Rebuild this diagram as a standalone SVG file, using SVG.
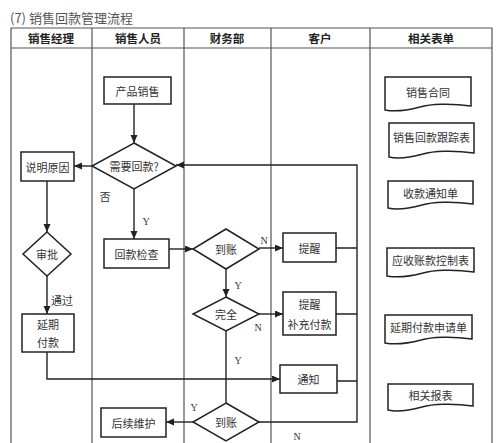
<svg xmlns="http://www.w3.org/2000/svg" width="499" height="443" viewBox="0 0 499 443">
<style>
.t{font-family:"Noto Sans CJK SC","Noto Sans",sans-serif;font-size:11px;fill:#333;text-anchor:middle;dominant-baseline:central}
.h{font-family:"Noto Sans CJK SC",sans-serif;font-size:11.5px;font-weight:bold;fill:#222;text-anchor:middle;dominant-baseline:central}
.l{font-family:"Liberation Serif",serif;font-size:10px;fill:#333;text-anchor:middle;dominant-baseline:central}
.grid{stroke:#555;stroke-width:1.2;fill:none}
.n{fill:#fff;stroke:#222;stroke-width:1.5}
.c{fill:none;stroke:#222;stroke-width:1.4}
</style>
<defs>
<marker id="a" markerUnits="userSpaceOnUse" markerWidth="9" markerHeight="8" refX="8" refY="3.5" orient="auto">
<path d="M0,0 L8,3.5 L0,7 z" fill="#222"/>
</marker>
</defs>
<rect width="499" height="443" fill="#fff"/>
<text x="10" y="17" style="font-family:'Noto Sans CJK SC',sans-serif;font-size:13px;fill:#555;dominant-baseline:central">(7) 销售回款管理流程</text>
<g id="table">
<path class="grid" d="M11,443 V28 H492 V443 M11,48 H492 M92,28 V443 M184,28 V443 M271,28 V443 M370,28 V443"/>
<text class="h" x="51" y="38">销售经理</text>
<text class="h" x="138" y="38">销售人员</text>
<text class="h" x="227" y="38">财务部</text>
<text class="h" x="320" y="38">客户</text>
<text class="h" x="431" y="38">相关表单</text>
</g>
<g id="connectors">
<path class="c" d="M134,104 V143" marker-end="url(#a)"/>
<path class="c" d="M92,166 H74" marker-end="url(#a)"/>
<path class="c" d="M47,181 V232" marker-end="url(#a)"/>
<path class="c" d="M47,276 V314" marker-end="url(#a)"/>
<path class="c" d="M134,189 V239" marker-end="url(#a)"/>
<path class="c" d="M169,249 H193" marker-end="url(#a)"/>
<path class="c" d="M259,248 H283" marker-end="url(#a)"/>
<path class="c" d="M226,269 V297" marker-end="url(#a)"/>
<path class="c" d="M259,314 H283" marker-end="url(#a)"/>
<path class="c" d="M226,331 V403"/>
<path class="c" d="M47,352 V379 H280" marker-end="url(#a)"/>
<path class="c" d="M193,422 H166" marker-end="url(#a)"/>
<path class="c" d="M259,422 H357 V165 H176" marker-end="url(#a)"/>
<path class="c" d="M336,248 H357 M336,314 H357 M337,381 H357"/>
<text class="t" x="105" y="196">否</text>
<text class="l" x="146" y="221">Y</text>
<text class="l" x="264" y="240">N</text>
<text class="l" x="238" y="285">Y</text>
<text class="l" x="258" y="327">N</text>
<text class="l" x="238" y="360">Y</text>
<text class="l" x="194" y="407">Y</text>
<text class="l" x="297" y="436">N</text>
<text class="t" x="62" y="300">通过</text>
</g>
<g id="n1"><rect class="n" x="104" y="77" width="67" height="27"/><text class="t" x="137.5" y="91">产品销售</text></g>
<g id="n2"><path class="n" d="M134,143 L176,166 L134,189 L92,166 Z"/><text class="t" x="134" y="166">需要回款?</text></g>
<g id="n3"><rect class="n" x="21" y="152" width="53" height="29"/><text class="t" x="47.5" y="166.5">说明原因</text></g>
<g id="n4"><path class="n" d="M47,232 L71,254 L47,276 L23,254 Z"/><text class="t" x="47" y="254">审批</text></g>
<g id="n5"><rect class="n" x="22" y="314" width="52" height="38"/><text class="t" x="48" y="324">延期</text><text class="t" x="48" y="342">付款</text></g>
<g id="n6"><rect class="n" x="104" y="239" width="65" height="29"/><text class="t" x="136.5" y="253.5">回款检查</text></g>
<g id="n7"><path class="n" d="M226,229 L259,249 L226,269 L193,249 Z"/><text class="t" x="226" y="249">到账</text></g>
<g id="n8"><rect class="n" x="283" y="233" width="53" height="29"/><text class="t" x="309.5" y="247.5">提醒</text></g>
<g id="n9"><path class="n" d="M226,297 L259,314 L226,331 L193,314 Z"/><text class="t" x="226" y="314">完全</text></g>
<g id="n10"><rect class="n" x="283" y="292" width="53" height="43"/><text class="t" x="309.5" y="304">提醒</text><text class="t" x="309.5" y="324">补充付款</text></g>
<g id="n11"><rect class="n" x="280" y="365" width="57" height="28"/><text class="t" x="308.5" y="379">通知</text></g>
<g id="n12"><path class="n" d="M226,403 L259,422 L226,441 L193,422 Z"/><text class="t" x="226" y="422">到账</text></g>
<g id="n13"><rect class="n" x="101" y="408" width="65" height="29"/><text class="t" x="133.5" y="422.5">后续维护</text></g>
<g id="d1"><path class="n" d="M385,77 H471 V106 C450,103 430,104 420,107 C405,111 395,112 385,110 Z"/><text class="t" x="428" y="92">销售合同</text></g>
<g id="d2"><path class="n" d="M389,123 H474 V153 C453,150 433,151 423,154 C408,158 398,159 389,157 Z"/><text class="t" x="431.5" y="137">销售回款跟踪表</text></g>
<g id="d3"><path class="n" d="M388,181 H473 V204 C452,201 432,202 422,205 C407,209 397,210 388,208 Z"/><text class="t" x="430.5" y="193">收款通知单</text></g>
<g id="d4"><path class="n" d="M387,248 H474 V272 C453,269 433,270 423,273 C408,277 398,278 387,276 Z"/><text class="t" x="430.5" y="260">应收账款控制表</text></g>
<g id="d5"><path class="n" d="M385,315 H472 V339 C451,336 431,337 421,340 C406,344 396,345 385,343 Z"/><text class="t" x="428.5" y="327">延期付款申请单</text></g>
<g id="d6"><path class="n" d="M388,384 H473 V406 C452,403 432,404 422,407 C407,411 397,412 388,410 Z"/><text class="t" x="430.5" y="395">相关报表</text></g>
</svg>
